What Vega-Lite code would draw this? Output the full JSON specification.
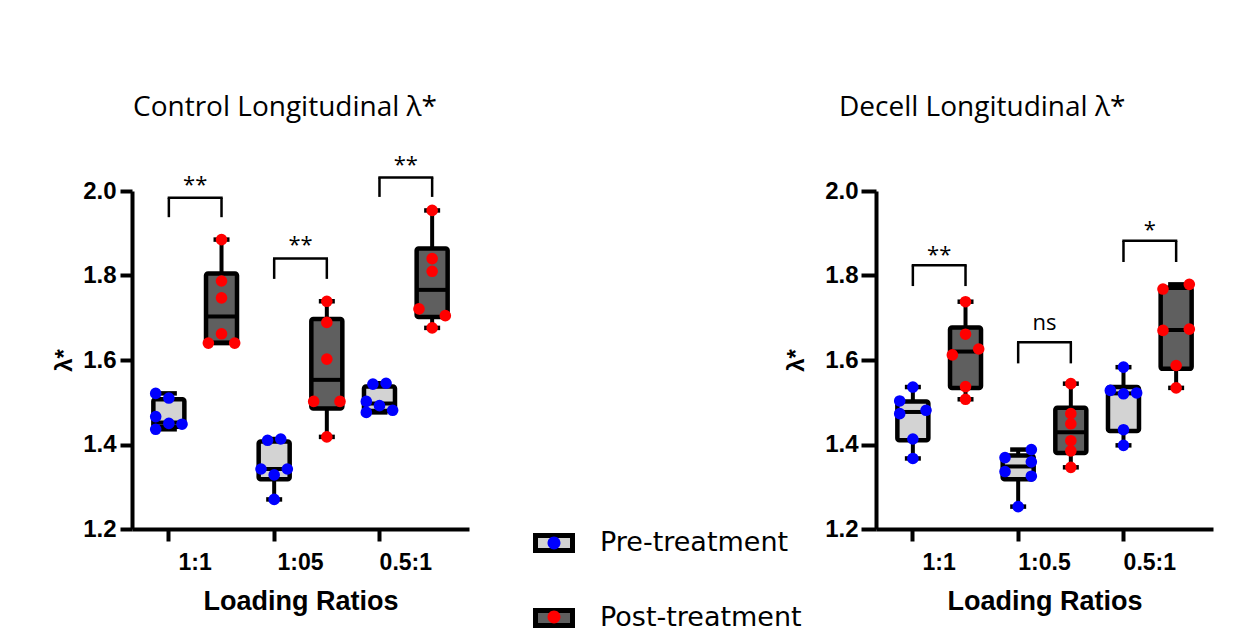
{
  "$schema": "https://vega.github.io/schema/vega-lite/v6.json",
  "autosize": {"type": "pad"},
  "padding": {"left": 52, "top": 94, "right": 37, "bottom": 10},
  "background": "white",
  "bounds": "flush",
  "spacing": 407,
  "datasets": {
    "ctrlBox": [
      {"ratio": "1:1", "treatment": "Pre-treatment", "slot": "Pre 0", "min": 1.436, "q1": 1.442, "median": 1.452, "q3": 1.507, "max": 1.521},
      {"ratio": "1:1", "treatment": "Post-treatment", "slot": "Post 0", "min": 1.640, "q1": 1.641, "median": 1.703, "q3": 1.805, "max": 1.885},
      {"ratio": "1:05", "treatment": "Pre-treatment", "slot": "Pre 0", "min": 1.270, "q1": 1.318, "median": 1.342, "q3": 1.407, "max": 1.413},
      {"ratio": "1:05", "treatment": "Post-treatment", "slot": "Post 0", "min": 1.418, "q1": 1.485, "median": 1.553, "q3": 1.697, "max": 1.739},
      {"ratio": "0.5:1", "treatment": "Pre-treatment", "slot": "Pre 0", "min": 1.476, "q1": 1.479, "median": 1.497, "q3": 1.537, "max": 1.545},
      {"ratio": "0.5:1", "treatment": "Post-treatment", "slot": "Post 0", "min": 1.676, "q1": 1.702, "median": 1.766, "q3": 1.864, "max": 1.954}
    ],
    "ctrlPts": [
      {"ratio": "1:1", "treatment": "Pre-treatment", "slot": "Pre -2", "value": 1.521},
      {"ratio": "1:1", "treatment": "Pre-treatment", "slot": "Pre 0", "value": 1.510},
      {"ratio": "1:1", "treatment": "Pre-treatment", "slot": "Pre -2", "value": 1.466},
      {"ratio": "1:1", "treatment": "Pre-treatment", "slot": "Pre 0", "value": 1.450},
      {"ratio": "1:1", "treatment": "Pre-treatment", "slot": "Pre +2", "value": 1.448},
      {"ratio": "1:1", "treatment": "Pre-treatment", "slot": "Pre -2", "value": 1.436},
      {"ratio": "1:1", "treatment": "Post-treatment", "slot": "Post 0", "value": 1.885},
      {"ratio": "1:1", "treatment": "Post-treatment", "slot": "Post 0", "value": 1.787},
      {"ratio": "1:1", "treatment": "Post-treatment", "slot": "Post 0", "value": 1.747},
      {"ratio": "1:1", "treatment": "Post-treatment", "slot": "Post 0", "value": 1.662},
      {"ratio": "1:1", "treatment": "Post-treatment", "slot": "Post -2", "value": 1.640},
      {"ratio": "1:1", "treatment": "Post-treatment", "slot": "Post +2", "value": 1.640},
      {"ratio": "1:05", "treatment": "Pre-treatment", "slot": "Pre +1", "value": 1.413},
      {"ratio": "1:05", "treatment": "Pre-treatment", "slot": "Pre -1", "value": 1.410},
      {"ratio": "1:05", "treatment": "Pre-treatment", "slot": "Pre -2", "value": 1.342},
      {"ratio": "1:05", "treatment": "Pre-treatment", "slot": "Pre +2", "value": 1.342},
      {"ratio": "1:05", "treatment": "Pre-treatment", "slot": "Pre 0", "value": 1.328},
      {"ratio": "1:05", "treatment": "Pre-treatment", "slot": "Pre 0", "value": 1.270},
      {"ratio": "1:05", "treatment": "Post-treatment", "slot": "Post 0", "value": 1.739},
      {"ratio": "1:05", "treatment": "Post-treatment", "slot": "Post 0", "value": 1.689},
      {"ratio": "1:05", "treatment": "Post-treatment", "slot": "Post 0", "value": 1.602},
      {"ratio": "1:05", "treatment": "Post-treatment", "slot": "Post -2", "value": 1.502},
      {"ratio": "1:05", "treatment": "Post-treatment", "slot": "Post +2", "value": 1.502},
      {"ratio": "1:05", "treatment": "Post-treatment", "slot": "Post 0", "value": 1.418},
      {"ratio": "0.5:1", "treatment": "Pre-treatment", "slot": "Pre +1", "value": 1.545},
      {"ratio": "0.5:1", "treatment": "Pre-treatment", "slot": "Pre -1", "value": 1.543},
      {"ratio": "0.5:1", "treatment": "Pre-treatment", "slot": "Pre -2", "value": 1.502},
      {"ratio": "0.5:1", "treatment": "Pre-treatment", "slot": "Pre 0", "value": 1.492},
      {"ratio": "0.5:1", "treatment": "Pre-treatment", "slot": "Pre +2", "value": 1.481},
      {"ratio": "0.5:1", "treatment": "Pre-treatment", "slot": "Pre -2", "value": 1.476},
      {"ratio": "0.5:1", "treatment": "Post-treatment", "slot": "Post 0", "value": 1.954},
      {"ratio": "0.5:1", "treatment": "Post-treatment", "slot": "Post 0", "value": 1.840},
      {"ratio": "0.5:1", "treatment": "Post-treatment", "slot": "Post 0", "value": 1.810},
      {"ratio": "0.5:1", "treatment": "Post-treatment", "slot": "Post -2", "value": 1.721},
      {"ratio": "0.5:1", "treatment": "Post-treatment", "slot": "Post +2", "value": 1.705},
      {"ratio": "0.5:1", "treatment": "Post-treatment", "slot": "Post 0", "value": 1.676}
    ],
    "ctrlLegs": [
      {"ratio": "1:1", "slot": "Pre 0", "top": 1.984, "leg": 1.938},
      {"ratio": "1:1", "slot": "Post 0", "top": 1.984, "leg": 1.938},
      {"ratio": "1:05", "slot": "Pre 0", "top": 1.840, "leg": 1.792},
      {"ratio": "1:05", "slot": "Post 0", "top": 1.840, "leg": 1.792},
      {"ratio": "0.5:1", "slot": "Pre 0", "top": 2.032, "leg": 1.986},
      {"ratio": "0.5:1", "slot": "Post 0", "top": 2.032, "leg": 1.986}
    ],
    "ctrlSig": [
      {"ratio": "1:1", "label": "**", "top": 1.984, "labelY": 1.997},
      {"ratio": "1:05", "label": "**", "top": 1.840, "labelY": 1.856},
      {"ratio": "0.5:1", "label": "**", "top": 2.032, "labelY": 2.044}
    ],
    "decBox": [
      {"ratio": "1:1", "treatment": "Pre-treatment", "slot": "Pre 0", "min": 1.367, "q1": 1.410, "median": 1.477, "q3": 1.502, "max": 1.536},
      {"ratio": "1:1", "treatment": "Post-treatment", "slot": "Post 0", "min": 1.507, "q1": 1.534, "median": 1.620, "q3": 1.677, "max": 1.738},
      {"ratio": "1:0.5", "treatment": "Pre-treatment", "slot": "Pre 0", "min": 1.253, "q1": 1.318, "median": 1.348, "q3": 1.374, "max": 1.388},
      {"ratio": "1:0.5", "treatment": "Post-treatment", "slot": "Post 0", "min": 1.346, "q1": 1.380, "median": 1.429, "q3": 1.487, "max": 1.544},
      {"ratio": "0.5:1", "treatment": "Pre-treatment", "slot": "Pre 0", "min": 1.398, "q1": 1.432, "median": 1.521, "q3": 1.536, "max": 1.583},
      {"ratio": "0.5:1", "treatment": "Post-treatment", "slot": "Post 0", "min": 1.534, "q1": 1.579, "median": 1.671, "q3": 1.771, "max": 1.779}
    ],
    "decPts": [
      {"ratio": "1:1", "treatment": "Pre-treatment", "slot": "Pre 0", "value": 1.536},
      {"ratio": "1:1", "treatment": "Pre-treatment", "slot": "Pre -2", "value": 1.503},
      {"ratio": "1:1", "treatment": "Pre-treatment", "slot": "Pre +2", "value": 1.481},
      {"ratio": "1:1", "treatment": "Pre-treatment", "slot": "Pre -2", "value": 1.473},
      {"ratio": "1:1", "treatment": "Pre-treatment", "slot": "Pre 0", "value": 1.413},
      {"ratio": "1:1", "treatment": "Pre-treatment", "slot": "Pre 0", "value": 1.367},
      {"ratio": "1:1", "treatment": "Post-treatment", "slot": "Post 0", "value": 1.738},
      {"ratio": "1:1", "treatment": "Post-treatment", "slot": "Post 0", "value": 1.661},
      {"ratio": "1:1", "treatment": "Post-treatment", "slot": "Post +2", "value": 1.626},
      {"ratio": "1:1", "treatment": "Post-treatment", "slot": "Post -2", "value": 1.612},
      {"ratio": "1:1", "treatment": "Post-treatment", "slot": "Post 0", "value": 1.537},
      {"ratio": "1:1", "treatment": "Post-treatment", "slot": "Post 0", "value": 1.507},
      {"ratio": "1:0.5", "treatment": "Pre-treatment", "slot": "Pre +2", "value": 1.388},
      {"ratio": "1:0.5", "treatment": "Pre-treatment", "slot": "Pre -2", "value": 1.369},
      {"ratio": "1:0.5", "treatment": "Pre-treatment", "slot": "Pre +2", "value": 1.359},
      {"ratio": "1:0.5", "treatment": "Pre-treatment", "slot": "Pre -2", "value": 1.336},
      {"ratio": "1:0.5", "treatment": "Pre-treatment", "slot": "Pre +2", "value": 1.325},
      {"ratio": "1:0.5", "treatment": "Pre-treatment", "slot": "Pre 0", "value": 1.253},
      {"ratio": "1:0.5", "treatment": "Post-treatment", "slot": "Post 0", "value": 1.544},
      {"ratio": "1:0.5", "treatment": "Post-treatment", "slot": "Post 0", "value": 1.473},
      {"ratio": "1:0.5", "treatment": "Post-treatment", "slot": "Post 0", "value": 1.449},
      {"ratio": "1:0.5", "treatment": "Post-treatment", "slot": "Post 0", "value": 1.409},
      {"ratio": "1:0.5", "treatment": "Post-treatment", "slot": "Post 0", "value": 1.385},
      {"ratio": "1:0.5", "treatment": "Post-treatment", "slot": "Post 0", "value": 1.346},
      {"ratio": "0.5:1", "treatment": "Pre-treatment", "slot": "Pre 0", "value": 1.583},
      {"ratio": "0.5:1", "treatment": "Pre-treatment", "slot": "Pre -2", "value": 1.528},
      {"ratio": "0.5:1", "treatment": "Pre-treatment", "slot": "Pre +2", "value": 1.522},
      {"ratio": "0.5:1", "treatment": "Pre-treatment", "slot": "Pre 0", "value": 1.520},
      {"ratio": "0.5:1", "treatment": "Pre-treatment", "slot": "Pre 0", "value": 1.435},
      {"ratio": "0.5:1", "treatment": "Pre-treatment", "slot": "Pre 0", "value": 1.398},
      {"ratio": "0.5:1", "treatment": "Post-treatment", "slot": "Post +2", "value": 1.779},
      {"ratio": "0.5:1", "treatment": "Post-treatment", "slot": "Post -2", "value": 1.768},
      {"ratio": "0.5:1", "treatment": "Post-treatment", "slot": "Post +2", "value": 1.673},
      {"ratio": "0.5:1", "treatment": "Post-treatment", "slot": "Post -2", "value": 1.670},
      {"ratio": "0.5:1", "treatment": "Post-treatment", "slot": "Post 0", "value": 1.587},
      {"ratio": "0.5:1", "treatment": "Post-treatment", "slot": "Post 0", "value": 1.534}
    ],
    "decLegs": [
      {"ratio": "1:1", "slot": "Pre 0", "top": 1.824, "leg": 1.775},
      {"ratio": "1:1", "slot": "Post 0", "top": 1.824, "leg": 1.775},
      {"ratio": "1:0.5", "slot": "Pre 0", "top": 1.642, "leg": 1.592},
      {"ratio": "1:0.5", "slot": "Post 0", "top": 1.642, "leg": 1.592},
      {"ratio": "0.5:1", "slot": "Pre 0", "top": 1.882, "leg": 1.832},
      {"ratio": "0.5:1", "slot": "Post 0", "top": 1.882, "leg": 1.832}
    ],
    "decSig": [
      {"ratio": "1:1", "label": "**", "top": 1.824, "labelY": 1.833},
      {"ratio": "1:0.5", "label": "ns", "top": 1.642, "labelY": 1.671},
      {"ratio": "0.5:1", "label": "*", "top": 1.882, "labelY": 1.892}
    ]
  },
  "hconcat": [
    {
      "width": 337,
      "height": 338,
      "title": {"text": "Control Longitudinal λ*", "anchor": "start", "frame": "group", "dx": 1, "offset": 32, "font": "Open Sans", "fontSize": 28, "fontWeight": "normal", "color": "black"},
      "encoding": {
        "x": {
          "field": "ratio", "type": "nominal",
          "scale": {"domain": ["1:1", "1:05", "0.5:1"], "paddingInner": 0, "paddingOuter": 0.1},
          "axis": {"bandPosition": 0.25, "labelAngle": 0, "domainColor": "black", "domainWidth": 4, "tickColor": "black", "tickWidth": 4, "tickSize": 12, "labelFont": "Liberation Sans", "labelFontWeight": "bold", "labelFontSize": 23, "labelColor": "black", "labelPadding": 10, "title": "Loading Ratios", "titleFont": "Liberation Sans", "titleFontWeight": "bold", "titleFontSize": 27, "titleColor": "black", "titlePadding": 14, "grid": false}
        }
      },
      "layer": [
        {
          "data": {"name": "ctrlBox"},
          "mark": {"type": "rule", "color": "black", "strokeWidth": 4},
          "encoding": {
            "xOffset": {"field": "slot", "type": "nominal", "scale": {"domain": ["gap0", "Pre -2", "Pre -1", "Pre 0", "Pre +1", "Pre +2", "gap6", "gap7", "gap8", "Post -2", "Post -1", "Post 0", "Post +1", "Post +2", "gap14"], "paddingInner": 0, "paddingOuter": 0.5}},
            "y": {"field": "min", "type": "quantitative", "title": "λ*", "scale": {"domain": [1.2, 2.0], "nice": false, "zero": false},
              "axis": {"values": [1.2, 1.4, 1.6, 1.8, 2.0], "format": ".1f", "domainColor": "black", "domainWidth": 4, "tickColor": "black", "tickWidth": 4, "tickSize": 12, "labelFont": "Liberation Sans", "labelFontWeight": "bold", "labelFontSize": 24, "labelColor": "black", "labelPadding": 4, "titleFont": "Liberation Sans", "titleFontWeight": "bold", "titleFontSize": 24, "titleColor": "black", "titlePadding": 6, "grid": false}},
            "y2": {"field": "max"}
          }
        },
        {
          "data": {"name": "ctrlBox"},
          "mark": {"type": "bar", "size": 31, "stroke": "black", "strokeWidth": 4.5, "cornerRadius": 2},
          "encoding": {
            "xOffset": {"field": "slot", "type": "nominal"},
            "y": {"field": "q1", "type": "quantitative", "title": "λ*"},
            "y2": {"field": "q3"},
            "color": {"field": "treatment", "type": "nominal", "sort": "descending", "scale": {"range": ["#d3d3d3", "#5f5f5f"]},
              "legend": {"orient": "none", "legendX": 401, "legendY": 331, "title": null, "padding": 0, "symbolType": "M-1,-0.405H1V0.405H-1Z", "symbolSize": 1369, "symbolStrokeWidth": 5, "symbolStrokeColor": "black", "labelFont": "DejaVu Sans", "labelFontSize": 27, "labelColor": "black", "labelOffset": 25, "labelLimit": 0, "rowPadding": 36,
                "encode": {"symbols": {"update": {"stroke": {"value": "black"}, "strokeWidth": {"value": 5}, "shape": {"value": "M-1,-0.405H1V0.405H-1Z"}, "size": {"value": 1369}, "opacity": {"value": 1}}}}}}
          }
        },
        {
          "data": {"name": "ctrlBox"},
          "mark": {"type": "tick", "size": 31, "thickness": 4, "color": "black", "opacity": 1},
          "encoding": {
            "xOffset": {"field": "slot", "type": "nominal"},
            "y": {"field": "median", "type": "quantitative", "title": "λ*"}
          }
        },
        {
          "data": {"name": "ctrlBox"},
          "mark": {"type": "tick", "size": 16, "thickness": 4.5, "color": "black", "opacity": 1},
          "encoding": {
            "xOffset": {"field": "slot", "type": "nominal"},
            "y": {"field": "min", "type": "quantitative", "title": "λ*"}
          }
        },
        {
          "data": {"name": "ctrlBox"},
          "mark": {"type": "tick", "size": 16, "thickness": 4.5, "color": "black", "opacity": 1},
          "encoding": {
            "xOffset": {"field": "slot", "type": "nominal"},
            "y": {"field": "max", "type": "quantitative", "title": "λ*"}
          }
        },
        {
          "data": {"name": "ctrlPts"},
          "mark": {"type": "point", "filled": true, "size": 135, "opacity": 1, "strokeWidth": 0},
          "encoding": {
            "xOffset": {"field": "slot", "type": "nominal"},
            "y": {"field": "value", "type": "quantitative", "title": "λ*"},
            "fill": {"field": "treatment", "type": "nominal", "sort": "descending", "scale": {"range": ["#0000ff", "#ff0000"]},
              "legend": {"orient": "none", "legendX": 401, "legendY": 331, "title": null, "padding": 0, "symbolType": "M-0.35,0A0.35,0.35,0,1,1,0.35,0A0.35,0.35,0,1,1,-0.35,0Z", "symbolSize": 1369, "symbolStrokeWidth": 5, "symbolStrokeColor": "transparent", "labelExpr": "''", "labelFontSize": 27, "rowPadding": 36,
                "encode": {"symbols": {"update": {"stroke": {"value": "transparent"}, "strokeWidth": {"value": 5}, "shape": {"value": "M-0.35,0A0.35,0.35,0,1,1,0.35,0A0.35,0.35,0,1,1,-0.35,0Z"}, "size": {"value": 1369}, "opacity": {"value": 1}}}}}}
          }
        },
        {
          "data": {"name": "ctrlLegs"},
          "mark": {"type": "rule", "color": "black", "strokeWidth": 2.5},
          "encoding": {
            "xOffset": {"field": "slot", "type": "nominal"},
            "y": {"field": "top", "type": "quantitative", "title": "λ*"},
            "y2": {"field": "leg"}
          }
        },
        {
          "data": {"name": "ctrlSig"},
          "mark": {"type": "tick", "size": 55, "thickness": 2.5, "color": "black", "opacity": 1},
          "encoding": {
            "y": {"field": "top", "type": "quantitative", "title": "λ*"}
          }
        },
        {
          "data": {"name": "ctrlSig"},
          "mark": {"type": "text", "font": "Open Sans", "fontSize": 22, "color": "black", "align": "center", "baseline": "alphabetic"},
          "encoding": {
            "y": {"field": "labelY", "type": "quantitative", "title": "λ*"},
            "text": {"field": "label"}
          }
        }
      ]
    },
    {
      "width": 337,
      "height": 338,
      "title": {"text": "Decell Longitudinal λ*", "anchor": "start", "frame": "group", "dx": -37, "offset": 57, "font": "Open Sans", "fontSize": 28, "fontWeight": "normal", "color": "black"},
      "encoding": {
        "x": {
          "field": "ratio", "type": "nominal",
          "scale": {"domain": ["1:1", "1:0.5", "0.5:1"], "paddingInner": 0, "paddingOuter": 0.1},
          "axis": {"bandPosition": 0.25, "labelAngle": 0, "domainColor": "black", "domainWidth": 4, "tickColor": "black", "tickWidth": 4, "tickSize": 12, "labelFont": "Liberation Sans", "labelFontWeight": "bold", "labelFontSize": 23, "labelColor": "black", "labelPadding": 10, "title": "Loading Ratios", "titleFont": "Liberation Sans", "titleFontWeight": "bold", "titleFontSize": 27, "titleColor": "black", "titlePadding": 14, "grid": false}
        }
      },
      "layer": [
        {
          "data": {"name": "decBox"},
          "mark": {"type": "rule", "color": "black", "strokeWidth": 4},
          "encoding": {
            "xOffset": {"field": "slot", "type": "nominal", "scale": {"domain": ["gap0", "Pre -2", "Pre -1", "Pre 0", "Pre +1", "Pre +2", "gap6", "gap7", "gap8", "Post -2", "Post -1", "Post 0", "Post +1", "Post +2", "gap14"], "paddingInner": 0, "paddingOuter": 0.5}},
            "y": {"field": "min", "type": "quantitative", "title": "λ*", "scale": {"domain": [1.2, 2.0], "nice": false, "zero": false},
              "axis": {"values": [1.2, 1.4, 1.6, 1.8, 2.0], "format": ".1f", "domainColor": "black", "domainWidth": 4, "tickColor": "black", "tickWidth": 4, "tickSize": 15, "labelFont": "Liberation Sans", "labelFontWeight": "bold", "labelFontSize": 24, "labelColor": "black", "labelPadding": 3, "titleFont": "Liberation Sans", "titleFontWeight": "bold", "titleFontSize": 24, "titleColor": "black", "titlePadding": 16, "grid": false}},
            "y2": {"field": "max"}
          }
        },
        {
          "data": {"name": "decBox"},
          "mark": {"type": "bar", "size": 31, "stroke": "black", "strokeWidth": 4.5, "cornerRadius": 2},
          "encoding": {
            "xOffset": {"field": "slot", "type": "nominal"},
            "y": {"field": "q1", "type": "quantitative", "title": "λ*"},
            "y2": {"field": "q3"},
            "color": {"field": "treatment", "type": "nominal", "sort": "descending", "scale": {"range": ["#d3d3d3", "#5f5f5f"]},
              "legend": {"orient": "none", "legendX": 401, "legendY": 331, "title": null, "padding": 0, "symbolType": "M-1,-0.405H1V0.405H-1Z", "symbolSize": 1369, "symbolStrokeWidth": 5, "symbolStrokeColor": "black", "labelFont": "DejaVu Sans", "labelFontSize": 27, "labelColor": "black", "labelOffset": 25, "labelLimit": 0, "rowPadding": 36,
                "encode": {"symbols": {"update": {"stroke": {"value": "black"}, "strokeWidth": {"value": 5}, "shape": {"value": "M-1,-0.405H1V0.405H-1Z"}, "size": {"value": 1369}, "opacity": {"value": 1}}}}}}
          }
        },
        {
          "data": {"name": "decBox"},
          "mark": {"type": "tick", "size": 31, "thickness": 4, "color": "black", "opacity": 1},
          "encoding": {
            "xOffset": {"field": "slot", "type": "nominal"},
            "y": {"field": "median", "type": "quantitative", "title": "λ*"}
          }
        },
        {
          "data": {"name": "decBox"},
          "mark": {"type": "tick", "size": 16, "thickness": 4.5, "color": "black", "opacity": 1},
          "encoding": {
            "xOffset": {"field": "slot", "type": "nominal"},
            "y": {"field": "min", "type": "quantitative", "title": "λ*"}
          }
        },
        {
          "data": {"name": "decBox"},
          "mark": {"type": "tick", "size": 16, "thickness": 4.5, "color": "black", "opacity": 1},
          "encoding": {
            "xOffset": {"field": "slot", "type": "nominal"},
            "y": {"field": "max", "type": "quantitative", "title": "λ*"}
          }
        },
        {
          "data": {"name": "decPts"},
          "mark": {"type": "point", "filled": true, "size": 135, "opacity": 1, "strokeWidth": 0},
          "encoding": {
            "xOffset": {"field": "slot", "type": "nominal"},
            "y": {"field": "value", "type": "quantitative", "title": "λ*"},
            "fill": {"field": "treatment", "type": "nominal", "sort": "descending", "scale": {"range": ["#0000ff", "#ff0000"]},
              "legend": {"orient": "none", "legendX": 401, "legendY": 331, "title": null, "padding": 0, "symbolType": "M-0.35,0A0.35,0.35,0,1,1,0.35,0A0.35,0.35,0,1,1,-0.35,0Z", "symbolSize": 1369, "symbolStrokeWidth": 5, "symbolStrokeColor": "transparent", "labelExpr": "''", "labelFontSize": 27, "rowPadding": 36,
                "encode": {"symbols": {"update": {"stroke": {"value": "transparent"}, "strokeWidth": {"value": 5}, "shape": {"value": "M-0.35,0A0.35,0.35,0,1,1,0.35,0A0.35,0.35,0,1,1,-0.35,0Z"}, "size": {"value": 1369}, "opacity": {"value": 1}}}}}}
          }
        },
        {
          "data": {"name": "decLegs"},
          "mark": {"type": "rule", "color": "black", "strokeWidth": 2.5},
          "encoding": {
            "xOffset": {"field": "slot", "type": "nominal"},
            "y": {"field": "top", "type": "quantitative", "title": "λ*"},
            "y2": {"field": "leg"}
          }
        },
        {
          "data": {"name": "decSig"},
          "mark": {"type": "tick", "size": 55, "thickness": 2.5, "color": "black", "opacity": 1},
          "encoding": {
            "y": {"field": "top", "type": "quantitative", "title": "λ*"}
          }
        },
        {
          "data": {"name": "decSig"},
          "mark": {"type": "text", "font": "Open Sans", "fontSize": 22, "color": "black", "align": "center", "baseline": "alphabetic"},
          "encoding": {
            "y": {"field": "labelY", "type": "quantitative", "title": "λ*"},
            "text": {"field": "label"}
          }
        }
      ]
    }
  ],
  "config": {
    "view": {"stroke": null},
    "axis": {"grid": false}
  }
}
